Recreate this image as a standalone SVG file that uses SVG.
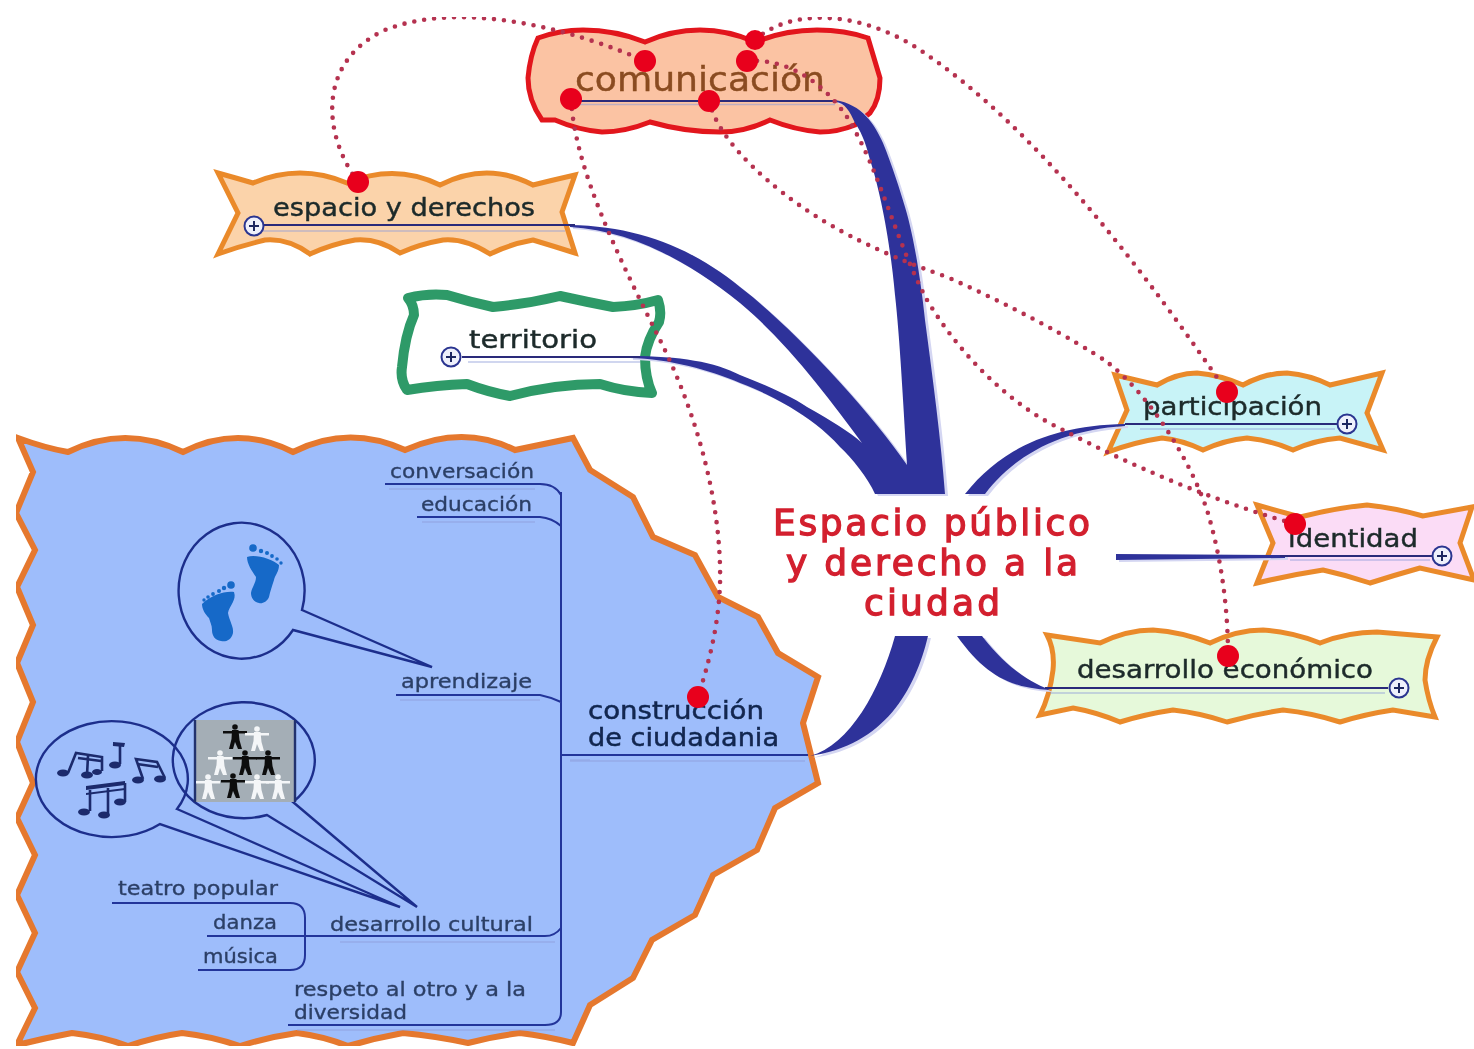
<svg xmlns="http://www.w3.org/2000/svg" xmlns:xlink="http://www.w3.org/1999/xlink" width="1474" height="1049" viewBox="0 0 1474 1049">
<style>
text{font-family:"DejaVu Sans","Liberation Sans",sans-serif}
.shape{stroke:#ea8a2c;stroke-width:5;stroke-linejoin:miter}
.t1{font-size:25px;fill:#1d2a2a;stroke:#1d2a2a;stroke-width:.45}
.t2{font-size:20px;fill:#2c3f66;stroke:#2c3f66;stroke-width:.35}
.t3{font-size:24px;fill:#12264f;stroke:#12264f;stroke-width:.5}
.hub{font-size:36px;fill:#d3202f;stroke:#d3202f;stroke-width:1.3}
.ul{fill:none;stroke:#23349a;stroke-width:2}
.ul2{fill:none;stroke:#2a2a7a;stroke-width:2}
.pale{fill:none;stroke:#8d9bd8;stroke-width:1.5;opacity:.55}
.call{fill:none;stroke:#1d2f8c;stroke-width:2.4;stroke-linejoin:miter}
.dot{fill:none;stroke:#b5304f;stroke-width:4.6;stroke-linecap:round;stroke-dasharray:0 10}
.red{fill:#e8001c}
.plus{fill:#eef0fb;stroke:#2b3590;stroke-width:2}
.plusin{stroke:#1c2560;stroke-width:2;fill:none}
.note{fill:#1a2a6c;stroke:none}
.ns{fill:none;stroke:#1a2a6c;stroke-width:2.6}
.foot{fill:#1469c8}
</style>
<defs>
<filter id="soft" x="0" y="0" width="100%" height="100%"><feGaussianBlur stdDeviation="0.7"/></filter>
<g id="br">
<path d="M835 100C862 104 875 125 883 143C892 165 900 190 905 207C915 240 922 290 925 320C933 380 941 440 945 494L875 494C868 478 852 458 840 447C825 430 808 418 790 407C770 395 755 389 740 383C710 370 670 359 630 358L630 356C680 356 715 362 740 375C765 385 790 395 807 407C830 420 850 432 862 443C830 400 790 345 740 303C690 262 630 230 570 227L570 225C640 226 695 250 740 287C790 325 870 410 907 465C903 400 900 340 895 295C890 240 880 190 870 160C865 140 860 130 855 123C850 112 845 102 835 102Z"/>
<path d="M928 636C915 690 885 745 810 756C850 745 880 690 895 636Z"/>
<path d="M957 636C985 675 1010 688 1050 690C1025 680 1005 665 982 636Z"/>
<path d="M965 494C1000 450 1050 425 1125 424L1125 426C1060 430 1015 455 985 494Z"/>
<path d="M1116 554L1285 555L1285 558L1116 560Z"/>
</g>
<g id="person"><circle cx="0" cy="-11" r="2.8"/><path d="M-3 -8L3.500 -8L4.500 2L7 11L3 11L0 4L-2 11L-6 11L-3.500 1Z"/><path d="M-12 -7L12 -7L12 -4.500L-12 -4.500Z"/></g>
</defs>
<rect width="1474" height="1049" fill="#fff"/>
<g filter="url(#soft)">

<g id="node-construccion">
<path d="M18 438Q45 448 68 452Q125 424 183 452Q238 424 293 452Q348 424 405 450Q463 424 515 450L573 438L590 470L633 497L653 537L695 555L718 597L758 617L778 653L818 677L803 723L818 783L775 808L757 850L713 875L695 915L652 940L633 978L590 1005L573 1043Q545 1036 520 1033Q495 1036 468 1043Q435 1036 403 1033Q375 1038 348 1046Q322 1036 297 1033Q268 1037 240 1046Q210 1036 182 1033Q155 1037 128 1046Q100 1036 72 1033Q45 1038 17 1045L35 1008L17 972L35 933L17 895L35 855L17 818L33 783L17 742L33 702L17 663L33 625L17 587L35 550L16 513L33 472Z" fill="#9ebdfb" stroke="#e5782e" stroke-width="6"/>
<text class="t3" x="588" y="719" textLength="176" lengthAdjust="spacingAndGlyphs">construcción</text>
<text class="t3" x="588" y="746" textLength="191" lengthAdjust="spacingAndGlyphs">de ciudadania</text>
</g>

<g id="node-conversacion"><text class="t2" x="390" y="478" textLength="144" lengthAdjust="spacingAndGlyphs">conversación</text></g>
<g id="node-educacion"><text class="t2" x="421" y="511" textLength="111" lengthAdjust="spacingAndGlyphs">educación</text></g>
<g id="node-aprendizaje"><text class="t2" x="401" y="688" textLength="131" lengthAdjust="spacingAndGlyphs">aprendizaje</text>
<path class="call" d="M302 610L432 667L293 630A63 68 0 1 1 302 610Z"/>
<g class="foot">
<path d="M202 604C212 595 224 591 234 592C237 600 229 606 228 613C229 620 234 627 233 633C231 641 225 642 221 641C215 640 212 636 212 630C212 625 210 622 209 618C205 614 202 609 202 604Z"/>
<path d="M247 557C256 554 272 559 279 565C279 572 275 575 274 580C272 586 270 592 269 597C267 602 262 604 259 603C254 602 251 598 251 593C252 587 256 583 256 577C252 571 247 564 247 557Z"/>
<circle cx="231" cy="585" r="3.800"/><circle cx="224" cy="588" r="2.200"/><circle cx="219" cy="591" r="2"/><circle cx="213" cy="594" r="1.900"/><circle cx="208" cy="597" r="1.800"/><circle cx="204" cy="600" r="1.700"/>
<circle cx="253" cy="548" r="3.800"/><circle cx="261" cy="551" r="2.200"/><circle cx="267" cy="553" r="2"/><circle cx="272" cy="556" r="1.900"/><circle cx="277" cy="559" r="1.800"/><circle cx="281" cy="563" r="1.700"/>
</g>
</g>

<g id="node-desarrollo-cultural"><text class="t2" x="330" y="931" textLength="203" lengthAdjust="spacingAndGlyphs">desarrollo cultural</text>
<path class="call" d="M293 802L417 907L267 815A71 58 0 1 1 293 802Z"/>
<path class="call" d="M177 809L400 907L160 824A76 58 0 1 1 177 809Z"/>
<rect x="195" y="720" width="100" height="82" fill="#a4aeb6"/>
<path d="M195 720V802M295 720V802" stroke="#20306e" stroke-width="2.400" fill="none"/>
<use xlink:href="#person" x="235" y="738" fill="#111"/>
<use xlink:href="#person" x="257" y="740" fill="#f4f6f8"/>
<use xlink:href="#person" x="220" y="764" fill="#f4f6f8"/>
<use xlink:href="#person" x="245" y="764" fill="#111"/>
<use xlink:href="#person" x="268" y="764" fill="#111"/>
<use xlink:href="#person" x="208" y="788" fill="#f4f6f8"/>
<use xlink:href="#person" x="233" y="787" fill="#111"/>
<use xlink:href="#person" x="257" y="788" fill="#f4f6f8"/>
<use xlink:href="#person" x="278" y="788" fill="#f4f6f8"/>
<g>
<ellipse class="note" cx="63" cy="773" rx="6" ry="3.500"/><ellipse class="note" cx="87" cy="775" rx="6" ry="3.500"/>
<ellipse class="note" cx="97" cy="772" rx="5" ry="3"/>
<path class="ns" d="M68 773L76 753L102 757V771M78 758L101 761M87 775L88 756"/>
<ellipse class="note" cx="115" cy="765" rx="6" ry="3.500"/><path class="ns" d="M120 764V745L113 744"/><path class="note" d="M113 742L125 743L124 747L113 746Z"/>
<ellipse class="note" cx="138" cy="780" rx="6" ry="3.500"/><ellipse class="note" cx="160" cy="779" rx="6" ry="3.500"/>
<path class="ns" d="M143 779L136 759L157 762L165 778M137 764L158 767"/>
<path class="note" d="M86 786L125 781V785L86 790Z"/><path class="note" d="M86 793L125 788V790L86 795Z"/>
<path class="ns" d="M90 790V811M108 788V814M125 783V802"/>
<ellipse class="note" cx="84" cy="812" rx="6" ry="3.500"/><ellipse class="note" cx="104" cy="815" rx="6" ry="3.500"/><ellipse class="note" cx="120" cy="802" rx="6" ry="3.500"/>
</g>
</g>

<g id="node-teatro"><text class="t2" x="118" y="895" textLength="160" lengthAdjust="spacingAndGlyphs">teatro popular</text></g>
<g id="node-danza"><text class="t2" x="213" y="929" textLength="64" lengthAdjust="spacingAndGlyphs">danza</text></g>
<g id="node-musica"><text class="t2" x="203" y="963" textLength="75" lengthAdjust="spacingAndGlyphs">música</text></g>
<g id="node-respeto"><text class="t2" x="294" y="996" textLength="232" lengthAdjust="spacingAndGlyphs">respeto al otro y a la</text>
<text class="t2" x="294" y="1019" textLength="113" lengthAdjust="spacingAndGlyphs">diversidad</text></g>

<g id="node-espacio">
<path class="shape" fill="#fbd3aa" d="M218 173Q236 178 253 183Q300 163 347 183Q395 163 440 185Q487 161 533 185Q553 180 575 175L562 212L575 253Q553 246 533 240Q510 244 490 254Q465 238 443 240Q420 244 400 253Q378 238 355 240Q332 244 310 254Q288 238 265 240Q240 246 218 254L238 213Z"/>
<text class="t1" x="273" y="216" textLength="262" lengthAdjust="spacingAndGlyphs">espacio y derechos</text>
</g>

<g id="node-territorio">
<path d="M408 298Q428 293 447 295Q470 302 493 307Q527 304 560 296Q587 302 613 307Q637 306 658 300Q662 312 659 322Q647 340 645 357Q645 378 652 393Q625 392 600 384Q555 384 510 396Q488 392 467 384Q437 385 407 390Q400 380 402 367Q405 335 414 315Q414 305 408 298Z" fill="#fff" stroke="#2f9a68" stroke-width="10" stroke-linejoin="round"/>
<text class="t1" x="469" y="348" textLength="128" lengthAdjust="spacingAndGlyphs">territorio</text>
</g>

<g id="node-comunicacion">
<path d="M538 38Q560 30 583 30Q615 30 645 42Q672 30 700 30Q728 30 755 42Q785 30 817 30Q845 30 868 38L880 78Q880 100 870 113L855 125Q838 132 820 132Q795 130 770 120Q745 132 720 132Q685 132 650 122Q625 132 602 132Q578 130 555 120L542 120Q528 100 528 78Q530 55 538 38Z" fill="#fbc3a3" stroke="#e2141f" stroke-width="5"/>
<text x="575" y="91" font-size="33" fill="#8a4c20" stroke="#8a4c20" stroke-width=".4" textLength="250" lengthAdjust="spacingAndGlyphs">comunicación</text>
</g>

<g id="node-participacion">
<path class="shape" fill="#c8f3f7" d="M1115 375L1157 385Q1177 373 1197 373Q1220 375 1243 385Q1265 373 1287 373Q1310 375 1330 385L1382 373L1367 413L1383 450L1340 438Q1315 440 1293 450Q1270 440 1247 438Q1225 440 1203 450Q1182 440 1162 438Q1135 442 1108 452L1127 410Z"/>
<text class="t1" x="1143" y="415" textLength="179" lengthAdjust="spacingAndGlyphs">participación</text>
</g>

<g id="node-identidad">
<path class="shape" fill="#fbdcf6" d="M1257 505L1300 517Q1335 508 1367 505Q1395 508 1423 516L1472 507L1460 543L1474 580L1420 568Q1395 575 1370 583Q1346 575 1323 570Q1290 575 1257 583L1273 543Z"/>
<text class="t1" x="1288" y="547" textLength="130" lengthAdjust="spacingAndGlyphs">identidad</text>
</g>

<g id="node-desarrollo">
<path class="shape" fill="#e6f9da" d="M1047 635L1100 643Q1127 630 1153 630Q1182 632 1210 643Q1237 630 1263 630Q1292 632 1320 643Q1348 632 1377 632L1437 637Q1425 660 1425 680Q1428 700 1435 717L1393 710Q1366 714 1340 722Q1312 713 1283 710Q1255 714 1227 722Q1200 713 1173 710Q1146 714 1120 722Q1096 712 1073 708L1040 715Q1050 695 1053 670Q1055 650 1047 635Z"/>
<text class="t1" x="1077" y="678" textLength="296" lengthAdjust="spacingAndGlyphs">desarrollo económico</text>
</g>

<g id="node-central">
<text class="hub" x="773" y="535" textLength="317" lengthAdjust="spacing">Espacio público</text>
<text class="hub" x="786" y="575" textLength="292" lengthAdjust="spacing">y derecho a la</text>
<text class="hub" x="864" y="615" textLength="136" lengthAdjust="spacing">ciudad</text>
</g>

<g id="connectors">
<use xlink:href="#br" fill="#d4d6f2" transform="translate(3 2)"/>
<use xlink:href="#br" fill="#2f329a"/>
<path class="pale" d="M262 231H565M468 362H640M1140 429H1335M1290 560H1430M1050 693H1385"/>
<path class="ul2" d="M263 225H575M462 357H640M1125 424H1337M1280 556H1432M1045 688H1388M570 101H835"/>
<path class="pale" stroke-width="4" d="M580 104.500H835"/>
<path class="pale" d="M570 760H590M570 761H805M389 489H535M422 522H535M400 700H540M340 942H555M297 1030H555"/>
<path class="ul" d="M562 755H808M561 492V1012Q561 1025 545 1025H288M385 484H540Q555 484 561 495M417 517H540Q552 518 561 526M396 695H540Q550 697 561 702M207 936H545Q555 936 561 928M112 903H290Q305 903 305 918V955Q305 970 290 970H198"/>
<g>
<path class="dot" d="M358 182C320 130 320 60 385 30C460 0 570 28 645 61"/>
<path class="dot" d="M755 40C790 8 860 10 920 50C1040 130 1150 280 1227 392"/>
<path class="dot" d="M747 61C790 58 825 85 847 117C880 170 895 240 927 300C960 355 1010 405 1063 430C1130 465 1210 500 1295 524"/>
<path class="dot" d="M709 101C715 125 735 155 783 193C820 222 870 250 947 277C1010 305 1075 340 1107 362C1150 395 1190 460 1207 510C1222 560 1228 610 1228 656"/>
<path class="dot" d="M571 99C575 170 620 260 660 340C700 420 722 510 720 585C718 630 708 665 698 697"/>
</g>
<circle class="red" cx="645" cy="61" r="11"/><circle class="red" cx="747" cy="61" r="11"/><circle class="red" cx="755" cy="40" r="10"/><circle class="red" cx="571" cy="99" r="11"/><circle class="red" cx="709" cy="101" r="11"/><circle class="red" cx="358" cy="182" r="11"/><circle class="red" cx="1227" cy="392" r="11"/><circle class="red" cx="1295" cy="524" r="11"/><circle class="red" cx="1228" cy="656" r="11"/><circle class="red" cx="698" cy="697" r="11"/>
<g><circle class="plus" cx="254" cy="226" r="9.500"/><path class="plusin" d="M249 226H259M254 221V231"/></g>
<g><circle class="plus" cx="451" cy="357" r="9.500"/><path class="plusin" d="M446 357H456M451 352V362"/></g>
<g><circle class="plus" cx="1347" cy="424" r="9.500"/><path class="plusin" d="M1342 424H1352M1347 419V429"/></g>
<g><circle class="plus" cx="1442" cy="556" r="9.500"/><path class="plusin" d="M1437 556H1447M1442 551V561"/></g>
<g><circle class="plus" cx="1399" cy="688" r="9.500"/><path class="plusin" d="M1394 688H1404M1399 683V693"/></g>
</g>
</g>
</svg>
